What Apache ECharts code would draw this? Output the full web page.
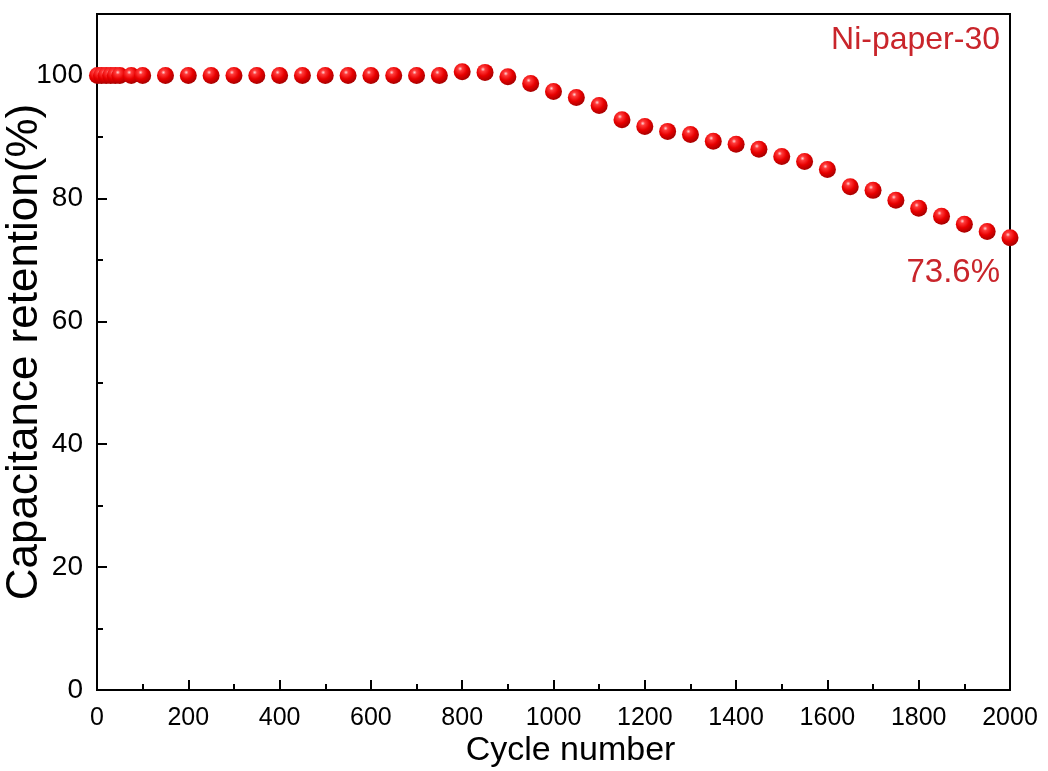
<!DOCTYPE html>
<html>
<head>
<meta charset="utf-8">
<script src="https://cdn.jsdelivr.net/npm/echarts@6/dist/echarts.min.js"></script>
<style>
html,body{margin:0;padding:0;background:#fff;}
#c{width:1048px;height:771px;}
</style>
</head>
<body>
<div id="c"></div>
<script>
const cycles = [1,10,20,30,40,50,75,100,150,200,250,300,350,400,450,500,550,600,650,700,750,800,850,900,950,1000,1050,1100,1150,1200,1250,1300,1350,1400,1450,1500,1550,1600,1650,1700,1750,1800,1850,1900,1950,2000];
const retention = [100,100,100,100,100,100,100,100,100,100,100,100,100,100,100,100,100,100,100,100,100,100.6,100.5,99.8,98.7,97.4,96.4,95.1,92.8,91.7,90.9,90.4,89.3,88.8,88.0,86.8,86.0,84.7,81.9,81.3,79.7,78.4,77.1,75.8,74.6,73.6];
const seriesName = 'Ni-paper-30';
const endLabel = '73.6%';
const xTitle = 'Cycle number';
const yTitle = 'Capacitance retention(%)';

const chart = echarts.init(document.getElementById('c'));
const pts = cycles.map((c,i)=>[c,retention[i]]);
const font = 'Arial, "Liberation Sans", sans-serif';
const red = '#c9252b';
chart.setOption({
  animation:false,
  grid:{left:97,right:38,top:14,bottom:81,outerBoundsMode:'none',containLabel:false,show:true,borderColor:'#000',borderWidth:2,backgroundColor:'transparent'},
  xAxis:[{
    type:'value',min:0,max:2000,interval:200,position:'bottom',
    axisLine:{show:true,lineStyle:{color:'#000',width:2}},
    axisTick:{show:true,inside:true,length:10,lineStyle:{color:'#000',width:2}},
    axisLabel:{color:'#000',fontSize:25,fontFamily:font,margin:16,formatter:v=>String(v)},
    splitLine:{show:false},
    name:xTitle,nameLocation:'middle',nameGap:44,nameMoveOverlap:false,
    nameTextStyle:{color:'#000',fontSize:34,fontFamily:font,padding:[0,0,0,34]}
  },{
    type:'value',min:0,max:2000,interval:100,position:'bottom',
    axisLine:{show:false},
    axisTick:{show:true,inside:true,length:6,lineStyle:{color:'#000',width:2}},
    axisLabel:{show:false},splitLine:{show:false}
  }],
  yAxis:[{
    type:'value',min:0,max:110,interval:20,position:'left',
    axisLine:{show:true,lineStyle:{color:'#000',width:2}},
    axisTick:{show:true,inside:true,length:10,lineStyle:{color:'#000',width:2}},
    axisLabel:{color:'#000',fontSize:28,fontFamily:font,margin:14,showMaxLabel:false,
      formatter:v=> (v>100?'':String(v))},
    splitLine:{show:false},
    name:yTitle,nameLocation:'middle',nameGap:50,nameRotate:90,nameMoveOverlap:false,
    nameTextStyle:{color:'#000',fontSize:44,fontFamily:font}
  },{
    type:'value',min:0,max:110,interval:10,position:'left',
    axisLine:{show:false},
    axisTick:{show:true,inside:true,length:6,lineStyle:{color:'#000',width:2}},
    axisLabel:{show:false},splitLine:{show:false}
  }],
  series:[{
    name:seriesName,type:'scatter',xAxisIndex:0,yAxisIndex:0,
    data:pts,symbol:'circle',symbolSize:17,
    itemStyle:{
      color:{type:'radial',x:0.38,y:0.32,r:0.72,colorStops:[
        {offset:0,color:'#ffd6d6'},{offset:0.18,color:'#ff3a3a'},
        {offset:0.55,color:'#e80000'},{offset:1,color:'#a00000'}]},
      opacity:1
    }
  }],
  graphic:[
    {type:'text',right:48,top:24,style:{text:seriesName,fill:red,font:'32px '+font}},
    {type:'text',right:48,top:256,style:{text:endLabel,fill:red,font:'33px '+font}}
  ]
});
</script>
</body>
</html>
